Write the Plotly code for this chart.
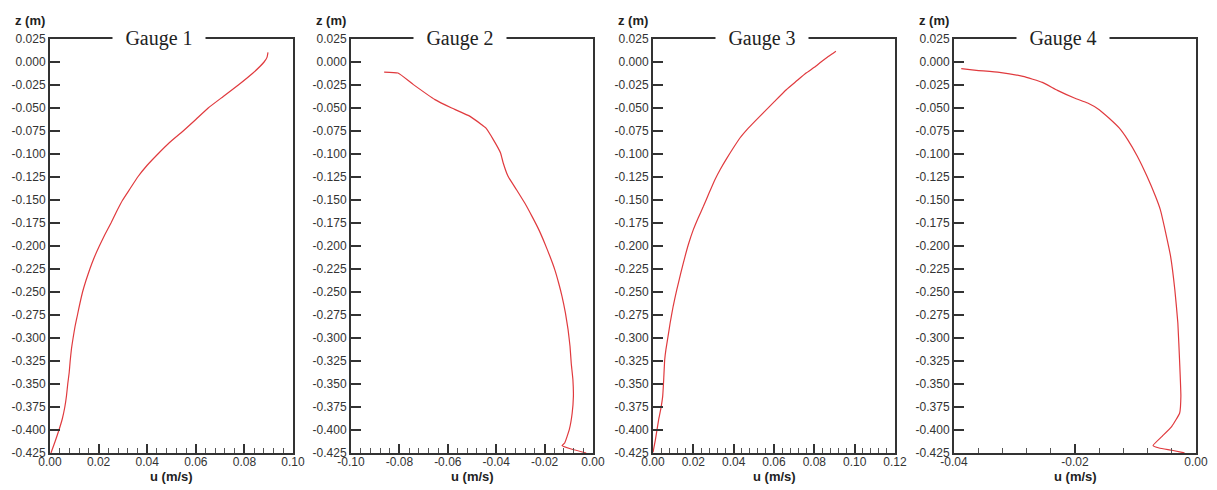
import plotly.graph_objects as go

# ---------------- data ----------------
gauge_names = ["Gauge 1", "Gauge 2", "Gauge 3", "Gauge 4"]

g1_u = [0.0897, 0.0893, 0.0881, 0.0833, 0.0775, 0.0713, 0.0651, 0.0600, 0.0548, 0.0492,
        0.0444, 0.0399, 0.0361, 0.0330, 0.0299, 0.0274, 0.0251, 0.0226, 0.0203, 0.0182,
        0.0164, 0.0148, 0.0134, 0.0123, 0.0113, 0.0103, 0.0095, 0.0088, 0.0083, 0.0079,
        0.0073, 0.0068, 0.0061, 0.0051, 0.0037, 0.0021, 0.0004]
g1_z = [0.0105, 0.005, 0.000, -0.0125, -0.025, -0.0375, -0.050, -0.0625, -0.075, -0.0875,
        -0.100, -0.1125, -0.125, -0.1375, -0.150, -0.1625, -0.175, -0.1875, -0.200, -0.2125,
        -0.225, -0.2375, -0.250, -0.2625, -0.275, -0.2875, -0.300, -0.3125, -0.325, -0.3375,
        -0.350, -0.3625, -0.375, -0.3875, -0.400, -0.4125, -0.425]

g2_u = [-0.0863, -0.0806, -0.0742, -0.0653, -0.0584, -0.0508, -0.0460, -0.0443, -0.0412,
        -0.0382, -0.0371, -0.0351, -0.0316, -0.0282, -0.0252, -0.0224, -0.0200, -0.0178,
        -0.0158, -0.0142, -0.0128, -0.0114, -0.0103, -0.0095, -0.0090, -0.0083, -0.0081,
        -0.0086, -0.0098, -0.0117, -0.0128, -0.0090, -0.0028]
g2_z = [-0.0109, -0.0120, -0.0246, -0.0409, -0.0500, -0.0591, -0.0681, -0.0717, -0.0844,
        -0.0989, -0.1098, -0.1243, -0.1388, -0.1533, -0.1678, -0.1822, -0.1967, -0.2112,
        -0.2257, -0.2402, -0.2547, -0.2728, -0.2909, -0.3090, -0.3272, -0.3453, -0.3634,
        -0.3815, -0.3996, -0.4141, -0.4170, -0.4207, -0.4250]

g3_u = [0.0907, 0.0890, 0.0866, 0.0833, 0.0800, 0.0759, 0.0710, 0.0661, 0.0603, 0.0554,
        0.0505, 0.0466, 0.0431, 0.0398, 0.0365, 0.0334, 0.0307, 0.0278, 0.0250, 0.0224,
        0.0200, 0.0178, 0.0159, 0.0138, 0.0118, 0.0100, 0.0085, 0.0072, 0.0064, 0.0058,
        0.0053, 0.0048, 0.0038, 0.0028, 0.0012, 0.0000]
g3_z = [0.0116, 0.0091, 0.0055, 0.0000, -0.0058, -0.0120, -0.0210, -0.0301, -0.0428, -0.0536,
        -0.0645, -0.0735, -0.0826, -0.0935, -0.1050, -0.1165, -0.1279, -0.1424, -0.1569, -0.1695,
        -0.1822, -0.1965, -0.2112, -0.2293, -0.2475, -0.2655, -0.2837, -0.3018, -0.3127, -0.3236,
        -0.3453, -0.3634, -0.3779, -0.3887, -0.4105, -0.4243]

g4_u = [-0.0388, -0.0363, -0.0325, -0.0286, -0.0254, -0.0229, -0.0201, -0.0179, -0.0160,
        -0.0144, -0.0127, -0.0113, -0.0097, -0.0081, -0.0067, -0.0059, -0.0050, -0.0042,
        -0.0035, -0.0030, -0.0027, -0.0025, -0.0027, -0.0040, -0.0056, -0.0071, -0.0061,
        -0.0040, -0.0019]
g4_z = [-0.0072, -0.009, -0.0112, -0.0156, -0.0221, -0.0308, -0.0391, -0.0446, -0.0518,
        -0.0609, -0.0717, -0.0844, -0.1025, -0.1243, -0.146, -0.1605, -0.1859, -0.2112,
        -0.2475, -0.2837, -0.327, -0.3634, -0.3815, -0.396, -0.4069, -0.417, -0.4196,
        -0.422, -0.4249]

z_tickvals = [0.025, 0.0, -0.025, -0.05, -0.075, -0.1, -0.125, -0.15, -0.175, -0.2,
              -0.225, -0.25, -0.275, -0.3, -0.325, -0.35, -0.375, -0.4, -0.425]
z_ticktext = ["0.025", "0.000", "-0.025", "-0.050", "-0.075", "-0.100", "-0.125",
              "-0.150", "-0.175", "-0.200", "-0.225", "-0.250", "-0.275", "-0.300",
              "-0.325", "-0.350", "-0.375", "-0.400", "-0.425"]

x1_tickvals = [0.0, 0.02, 0.04, 0.06, 0.08, 0.10]
x1_ticktext = ["0.00", "0.02", "0.04", "0.06", "0.08", "0.10"]
x2_tickvals = [-0.10, -0.08, -0.06, -0.04, -0.02, 0.0]
x2_ticktext = ["-0.10", "-0.08", "-0.06", "-0.04", "-0.02", "0.00"]
x3_tickvals = [0.0, 0.02, 0.04, 0.06, 0.08, 0.10, 0.12]
x3_ticktext = ["0.00", "0.02", "0.04", "0.06", "0.08", "0.10", "0.12"]
x4_tickvals = [-0.04, -0.02, 0.0]
x4_ticktext = ["-0.04", "-0.02", "0.00"]

x_ranges = [[0.0, 0.10], [-0.10, 0.0], [0.0, 0.12], [-0.04, 0.0]]
z_range = [-0.425, 0.025]

# ---------------- layout ----------------
W, H = 1217, 490
panel_px = [(50, 293), (351, 593), (653, 895), (954, 1196)]
y_top_px, y_bot_px = 39, 453

series = [(g1_u, g1_z), (g2_u, g2_z), (g3_u, g3_z), (g4_u, g4_z)]
xticks = [(x1_tickvals, x1_ticktext), (x2_tickvals, x2_ticktext),
          (x3_tickvals, x3_ticktext), (x4_tickvals, x4_ticktext)]

AX = "#333333"
tickfont = dict(family="Liberation Sans, Arial, sans-serif", size=12, color="#333333")

fig = go.Figure()
layout = dict(
    width=W, height=H,
    margin=dict(l=0, r=0, t=0, b=0, autoexpand=False),
    paper_bgcolor="white", plot_bgcolor="white",
    showlegend=False,
)
annotations = []

for i, ((u, z), (tv, tt), xr, (x0, x1)) in enumerate(zip(series, xticks, x_ranges, panel_px)):
    n = "" if i == 0 else str(i + 1)
    fig.add_trace(go.Scatter(
        x=u, y=z, mode="lines", xaxis="x" + n, yaxis="y" + n,
        line=dict(color="#e03a3e", width=1.2, shape="spline", smoothing=0.4),
        hoverinfo="skip",
    ))
    layout["xaxis" + n] = dict(
        domain=[x0 / W, x1 / W], anchor="y" + n, range=xr, automargin=False,
        showline=True, mirror=True, linecolor=AX, linewidth=2,
        ticks="inside", ticklen=9, tickwidth=2, tickcolor=AX,
        tickvals=tv, ticktext=tt, tickfont=tickfont, ticklabelstandoff=-3,
        minor=dict(ticks="inside", ticklen=5, tickwidth=1, tickcolor="#555555",
                   dtick=0.004, tick0=0),
        showgrid=False, zeroline=False, fixedrange=True,
    )
    layout["yaxis" + n] = dict(
        domain=[1 - y_bot_px / H, 1 - y_top_px / H], anchor="x" + n, range=z_range,
        automargin=False,
        showline=True, mirror=True, linecolor=AX, linewidth=2,
        ticks="inside", ticklen=10, tickwidth=2, tickcolor=AX,
        tickvals=z_tickvals, ticktext=z_ticktext, tickfont=tickfont,
        showgrid=False, zeroline=False, fixedrange=True,
    )
    # gauge title interrupting the top frame line
    annotations.append(dict(
        text=gauge_names[i], xref="x" + n + " domain", yref="y" + n + " domain",
        x=109 / (x1 - x0), y=1.0, xanchor="center", yanchor="middle",
        showarrow=False, bgcolor="white", width=92, borderpad=0,
        font=dict(family="Liberation Serif, Times New Roman, serif", size=20, color="#222222"),
    ))
    # axis titles
    annotations.append(dict(
        text="<b>u (m/s)</b>", xref="x" + n + " domain", yref="paper",
        x=0.5, y=1 - 476 / H, xanchor="center", yanchor="middle", showarrow=False,
        font=dict(family="Liberation Sans, Arial, sans-serif", size=13, color="#222222"),
    ))
    annotations.append(dict(
        text="<b>z (m)</b>", xref="x" + n + " domain", yref="paper",
        x=0, xshift=-3, y=1 - 20 / H, xanchor="right", yanchor="middle", showarrow=False,
        font=dict(family="Liberation Sans, Arial, sans-serif", size=13, color="#222222"),
    ))

layout["annotations"] = annotations
fig.update_layout(**layout)
fig.write_html("out.html")
